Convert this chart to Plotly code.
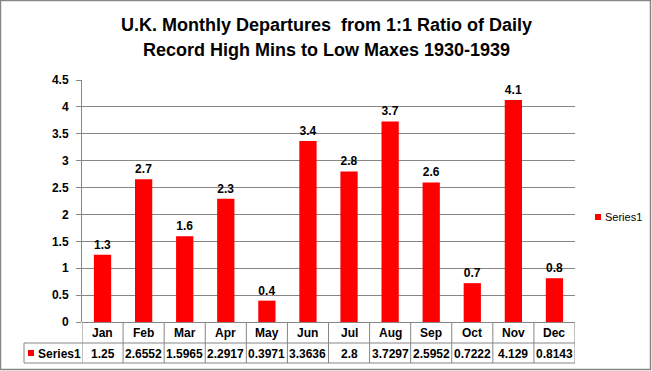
import plotly.graph_objects as go

months = ["Jan", "Feb", "Mar", "Apr", "May", "Jun", "Jul", "Aug", "Sep", "Oct", "Nov", "Dec"]
values = [1.25, 2.6552, 1.5965, 2.2917, 0.3971, 3.3636, 2.8, 3.7297, 2.5952, 0.7222, 4.129, 0.8143]
value_labels = ["1.25", "2.6552", "1.5965", "2.2917", "0.3971", "3.3636", "2.8", "3.7297", "2.5952", "0.7222", "4.129", "0.8143"]
series_name = "Series1"
title_lines = ["U.K. Monthly Departures  from 1:1 Ratio of Daily", "Record High Mins to Low Maxes 1930-1939"]

W, H = 652, 371
L, R, T, B = 82, 575, 80, 322  # plot area pixels
pw, ph = R - L, B - T

def px(x):
    return (x - L) / pw

def py(y):
    return (B - y) / ph

FONT = "Liberation Sans, Arial, sans-serif"
GRID = "#868686"
BOLD12 = dict(family=FONT, size=12, color="#000000", weight="bold")

fig = go.Figure()
fig.add_trace(go.Bar(
    x=months, y=values, name=series_name,
    marker=dict(color="#FF0000", line=dict(width=0)),
    texttemplate="%{y:.1f}", textposition="outside",
    textfont=BOLD12, cliponaxis=False, showlegend=False,
))

shapes = []
line = dict(color=GRID, width=1)
for i in range(len(months) + 1):
    shapes.append(dict(type="line", xref="x", yref="paper", x0=i - 0.5, x1=i - 0.5,
                       y0=0, y1=py(363), line=line))
for yy in (343, 363):
    shapes.append(dict(type="line", xref="paper", yref="paper", x0=px(24), x1=1,
                       y0=py(yy), y1=py(yy), line=line))
shapes.append(dict(type="line", xref="paper", yref="paper", x0=px(24), x1=px(24),
                   y0=py(343), y1=py(363), line=line))
shapes.append(dict(type="rect", xref="paper", yref="paper", x0=px(28), x1=px(34),
                   y0=py(350), y1=py(356), fillcolor="#FF0000", line=dict(width=0)))
shapes.append(dict(type="rect", xref="paper", yref="paper", x0=px(595), x1=px(601),
                   y0=py(214), y1=py(220), fillcolor="#FF0000", line=dict(width=0)))
shapes.append(dict(type="rect", xref="paper", yref="paper", x0=px(0.5), x1=px(650.5),
                   y0=py(0.5), y1=py(369.5), line=dict(color=GRID, width=1.5)))

ann = []
for m, v in zip(months, value_labels):
    ann.append(dict(x=m, xref="x", y=py(333), yref="paper", text=m,
                    showarrow=False, font=BOLD12, xanchor="center", yanchor="middle"))
    ann.append(dict(x=m, xref="x", y=py(353.5), yref="paper", text=v,
                    showarrow=False, font=BOLD12, xanchor="center", yanchor="middle"))
ann.append(dict(x=px(36), xref="paper", y=py(353.5), yref="paper", text=series_name,
                showarrow=False, font=BOLD12, xanchor="left", yanchor="middle"))
ann.append(dict(x=px(603), xref="paper", y=py(217.5), yref="paper", text=series_name,
                showarrow=False, font=dict(family=FONT, size=11, color="#000"),
                xanchor="left", yanchor="middle"))
for t, yy in zip(title_lines, (25, 50)):
    ann.append(dict(x=px(326), xref="paper", y=py(yy), yref="paper", text=t,
                    showarrow=False, font=dict(family=FONT, size=18, color="#000", weight="bold"),
                    xanchor="center", yanchor="middle"))

fig.update_layout(
    width=W, height=H,
    margin=dict(l=L, r=W - R, t=T, b=H - B, pad=0),
    paper_bgcolor="white", plot_bgcolor="white",
    bargap=0.58,
    shapes=shapes, annotations=ann,
    xaxis=dict(type="category", range=[-0.5, 11.5], showticklabels=False,
               showgrid=False, showline=False, zeroline=False, ticks=""),
    yaxis=dict(range=[0, 4.5], dtick=0.5, tick0=0, showgrid=True, gridcolor=GRID, gridwidth=1,
               showline=True, linecolor=GRID, linewidth=1, ticks="outside", ticklen=5,
               tickcolor=GRID, zeroline=True, zerolinecolor=GRID, zerolinewidth=1,
               tickfont=BOLD12, ticklabelstandoff=5),
)

fig.write_html("out.html", config={"displayModeBar": False},
               post_script="document.body.style.margin='0px';")
